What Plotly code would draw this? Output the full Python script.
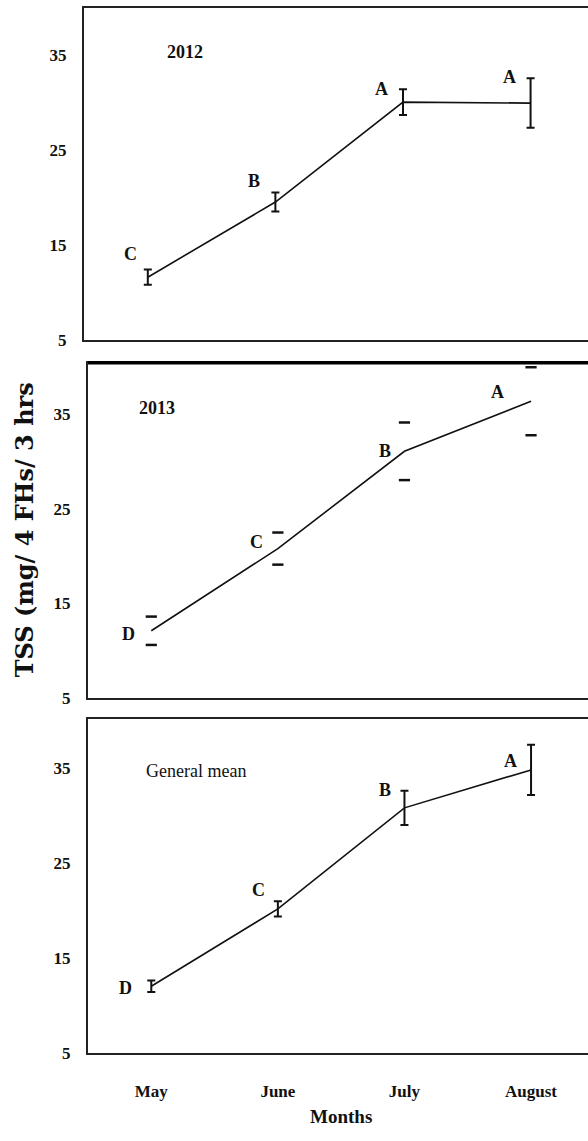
import plotly.graph_objects as go

# ---- data ----
months = ["May", "June", "July", "August"]
tss_2012 = [11.6, 19.5, 30.0, 29.9]
err_2012 = [0.8, 1.0, 1.35, 2.6]
letters_2012 = ["C", "B", "A", "A"]

tss_2013 = [12.1, 20.8, 31.1, 36.4]
err_2013 = [1.5, 1.7, 3.05, 3.6]
letters_2013 = ["D", "C", "B", "A"]

tss_mean = [12.0, 20.15, 30.8, 34.8]
err_mean = [0.6, 0.8, 1.8, 2.65]
letters_mean = ["D", "C", "B", "A"]

y_ticks = [5, 15, 25, 35]

# ---- styling ----
W, H = 588, 1141
FONT = "Liberation Serif"
INK = "#111111"

def px_x(x):
    return x / W

def px_y(y):
    return 1 - y / H

panels = [
    dict(v=tss_2012, e=err_2012, l=letters_2012, name="2012", left=84, top=8, bottom=343, ymax=39.9,
         stems=True, dx=[-17, -21, -21, -21], dy=[23, 21, 13, 26], lab=(185, 52), labw="bold"),
    dict(v=tss_2013, e=err_2013, l=letters_2013, name="2013", left=88, top=366, bottom=704, ymax=40.47,
         stems=False, dx=[-23, -21, -19, -34], dy=[-3, 7, 0, 9], lab=(157, 412), labw="bold"),
    dict(v=tss_mean, e=err_mean, l=letters_mean, name="General mean", left=88, top=725, bottom=1062, ymax=40.2,
         stems=True, dx=[-26, -19, -19, -21], dy=[-2, 19, 18, 9], lab=(196, 778), labw="normal"),
]

fig = go.Figure()
annotations = []
layout_axes = {}

for i, p in enumerate(panels, start=1):
    xa = "x" if i == 1 else f"x{i}"
    ya = "y" if i == 1 else f"y{i}"
    xkey = "xaxis" if i == 1 else f"xaxis{i}"
    ykey = "yaxis" if i == 1 else f"yaxis{i}"

    if p["stems"]:
        fig.add_trace(go.Scatter(
            x=months, y=p["v"], mode="lines", xaxis=xa, yaxis=ya,
            line=dict(color=INK, width=1.6),
            error_y=dict(type="data", array=p["e"], color=INK, thickness=2, width=4),
            showlegend=False, hoverinfo="skip"))
    else:
        fig.add_trace(go.Scatter(
            x=months, y=p["v"], mode="lines", xaxis=xa, yaxis=ya,
            line=dict(color=INK, width=1.6), showlegend=False, hoverinfo="skip"))
        caps_y = [v + e for v, e in zip(p["v"], p["e"])] + [v - e for v, e in zip(p["v"], p["e"])]
        fig.add_trace(go.Scatter(
            x=months + months, y=caps_y, mode="markers", xaxis=xa, yaxis=ya,
            marker=dict(symbol="line-ew", size=8, line=dict(color=INK, width=2.5)),
            showlegend=False, hoverinfo="skip", cliponaxis=False))

    for m, v, letter, dx, dy in zip(months, p["v"], p["l"], p["dx"], p["dy"]):
        annotations.append(dict(x=m, y=v, xref=xa, yref=ya, text=letter, showarrow=False,
                                xshift=dx, yshift=dy, xanchor="center", yanchor="middle",
                                font=dict(family=FONT, size=18, color=INK, weight="bold")))

    annotations.append(dict(x=px_x(p["lab"][0]), y=px_y(p["lab"][1]), xref="paper", yref="paper",
                            text=p["name"], showarrow=False, xanchor="center", yanchor="middle",
                            font=dict(family=FONT, size=18, color=INK, weight=p["labw"])))

    layout_axes[xkey] = dict(
        domain=[p["left"] / W, 1.0], range=[-0.5, 3.45], type="category",
        anchor=ya, showline=True, mirror=True, linecolor="#222", linewidth=2,
        showgrid=False, zeroline=False, ticks="",
        showticklabels=(i == 3), tickfont=dict(family=FONT, size=17, color=INK, weight="bold"),
        ticklabelstandoff=22,
    )
    layout_axes[ykey] = dict(
        domain=[px_y(p["bottom"]), px_y(p["top"])], range=[5, p["ymax"]],
        anchor=xa, showline=True, mirror=False, linecolor="#222", linewidth=2,
        showgrid=False, zeroline=False, ticks="", tickvals=y_ticks,
        tickfont=dict(family=FONT, size=17, color=INK, weight="bold"), ticklabelstandoff=12,
    )

# axis titles as text
annotations.append(dict(x=px_x(341), y=px_y(1126), xref="paper", yref="paper", text="Months",
                        showarrow=False, xanchor="center", yanchor="middle",
                        font=dict(family=FONT, size=19, color=INK, weight="bold")))
annotations.append(dict(x=px_x(24), y=px_y(535), xref="paper", yref="paper",
                        text="TSS (mg/ 4 FHs/ 3 hrs", textangle=-90, showarrow=False,
                        xanchor="center", yanchor="middle",
                        font=dict(family="DejaVu Serif", size=24, color=INK, weight="bold")))

shapes = [dict(type="line", xref="x2 domain", yref="y2 domain", x0=0, x1=1, y0=1, y1=1,
               line=dict(color="#000", width=3.5))]

fig.update_layout(
    width=W, height=H, margin=dict(l=0, r=0, t=0, b=0),
    paper_bgcolor="white", plot_bgcolor="white",
    annotations=annotations, shapes=shapes, showlegend=False,
    font=dict(family=FONT, color=INK),
    **layout_axes,
)

fig.write_html("out.html", config={"displayModeBar": False},
               post_script="document.body.style.margin='0';document.body.style.overflow='hidden';")
